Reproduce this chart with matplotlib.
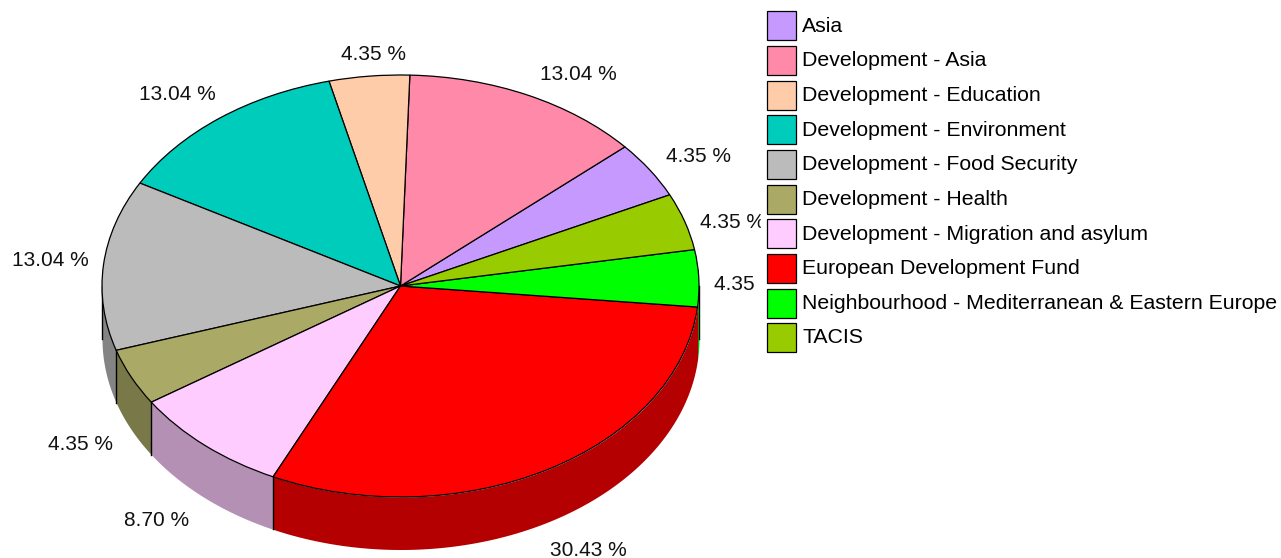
import numpy as np
import matplotlib
matplotlib.use('Agg')
import matplotlib.pyplot as plt

plt.rcParams['font.family'] = ['Liberation Sans', 'DejaVu Sans']

names = ['Asia', 'Development - Asia', 'Development - Education', 'Development - Environment',
         'Development - Food Security', 'Development - Health', 'Development - Migration and asylum',
         'European Development Fund', 'Neighbourhood - Mediterranean & Eastern Europe', 'TACIS']
shares = [4.35, 13.04, 4.35, 13.04, 13.04, 4.35, 8.70, 30.43, 4.35, 4.35]
colors = ['#C699FF', '#FF89A9', '#FFCCAA', '#00CCBB', '#BBBBBB', '#AAAA66', '#FFCCFF', '#FF0000', '#00FF00', '#99CC00']
share_labels = ['4.35 %', '13.04 %', '4.35 %', '13.04 %', '13.04 %', '4.35 %', '8.70 %', '30.43 %', '4.35 %', '4.35 %']

# where the percentages sit, in pixels of the image
label_px = [(699, 157), (578, 75), (373.5, 55), (177, 95), (50, 261), (81, 445), (157, 521), (588, 551), (747, 285), (733, 222)]

W, H = 1281, 558
cx, cy = 400.5, 286
rx, ry = 298.5, 211
depth = 52.5 / ry
start = 25.6


def to_data(px, py):
    return (px - cx) / rx, (cy - py) / ry


fig = plt.figure(figsize=(W / 100, H / 100), dpi=100)
ax = fig.add_axes([0, 0, 1, 1])

wedges, _ = ax.pie(shares, colors=colors, startangle=start, counterclock=True, normalize=True,
                   wedgeprops=dict(edgecolor='black', linewidth=0.9, zorder=5))

# side wall of the disc, only the lower half shows
edges = start + np.cumsum([0] + shares) / np.sum(shares) * 360
for i in range(len(shares)):
    a0, a1 = edges[i], edges[i + 1]
    for lo, hi in [(180, 360), (540, 720)]:
        s, e = max(a0, lo), min(a1, hi)
        if e <= s:
            continue
        t = np.radians(np.linspace(s, e, 120))
        rgb = np.array(matplotlib.colors.to_rgb(colors[i])) * 0.706
        ax.fill_between(np.cos(t), np.sin(t), np.sin(t) - depth, color=rgb, linewidth=0, zorder=2)

# black verticals at the slice borders, the one near the right end does not show in the original
wall_lines = [180, 360] + [a for a in edges if 180 < a < 350]
for a in wall_lines:
    x = np.cos(np.radians(a))
    y = np.sin(np.radians(a))
    ax.plot([x, x], [y, y - depth], color='black', linewidth=1.0, zorder=3)

for txt, (px, py) in zip(share_labels, label_px):
    lx, ly = to_data(px, py)
    ax.text(lx, ly, txt, fontsize=15, ha='center', va='center', color='#111111', clip_on=False, zorder=6)

ax.set_xlim(-cx / rx, (W - cx) / rx)
ax.set_ylim((cy - H) / ry, cy / ry)
ax.set_aspect('auto')
ax.axis('off')

leg = ax.legend(wedges, names, loc='upper left', bbox_to_anchor=(761 / W, 1 - 5 / H), bbox_transform=fig.transFigure,
                fontsize=15.3, frameon=True, facecolor='white', edgecolor='white', framealpha=1, fancybox=False,
                borderpad=0.3, borderaxespad=0, handlelength=1.37, handleheight=1.72, handletextpad=0.26,
                labelspacing=0.268)
leg.set_zorder(10)
for t in leg.get_texts():
    t.set_y(1.2)

fig.savefig('out.png', dpi=100)
